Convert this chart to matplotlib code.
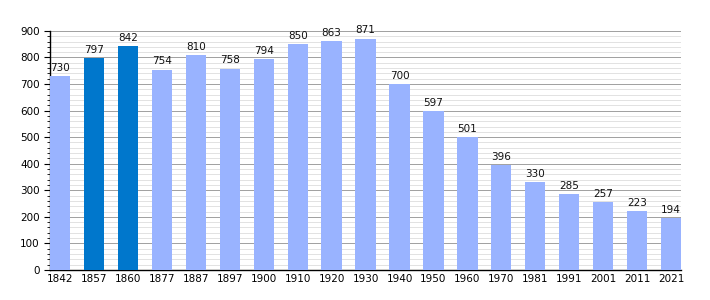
import numpy as np
import matplotlib.pyplot as plt
from matplotlib.ticker import MultipleLocator

years = ['1842', '1857', '1860', '1877', '1887', '1897', '1900', '1910', '1920',
         '1930', '1940', '1950', '1960', '1970', '1981', '1991', '2001', '2011', '2021']
population = [730, 797, 842, 754, 810, 758, 794, 850, 863, 871, 700, 597, 501,
              396, 330, 285, 257, 223, 194]
highlight = ['1857', '1860']

light = '#99b3ff'
dark = '#0077cc'

fig = plt.figure(figsize=(7.1, 3.0), dpi=100)
ax = fig.add_axes([0.0704, 0.1, 0.889, 0.797])

x = np.arange(len(years))
colors = [dark if y in highlight else light for y in years]
bars = ax.bar(x, population, width=0.6, color=colors, zorder=3)

for xi, v in zip(x, population):
    ax.text(xi, v + 12, str(v), ha='center', va='bottom', fontsize=7.5, color='#111111')

ax.set_xlim(-0.3, len(years) - 0.7)
ax.set_ylim(0, 900)
ax.set_xticks(x)
ax.set_xticklabels(years, fontsize=7.5)
ax.yaxis.set_major_locator(MultipleLocator(100))
ax.yaxis.set_minor_locator(MultipleLocator(20))
ax.tick_params(axis='y', labelsize=7.5, length=4, width=0.8)
ax.tick_params(axis='y', which='minor', length=2.5, width=0.6)
ax.tick_params(axis='x', length=0, pad=3)

ax.grid(axis='y', which='major', color='#a0a0a0', linewidth=0.7, zorder=0)
ax.grid(axis='y', which='minor', color='#dddddd', linewidth=0.6, zorder=0)

for s in ['top', 'right']:
    ax.spines[s].set_visible(False)
ax.spines['left'].set_linewidth(1.0)
ax.spines['bottom'].set_linewidth(1.0)

fig.savefig('out.png', dpi=100)
